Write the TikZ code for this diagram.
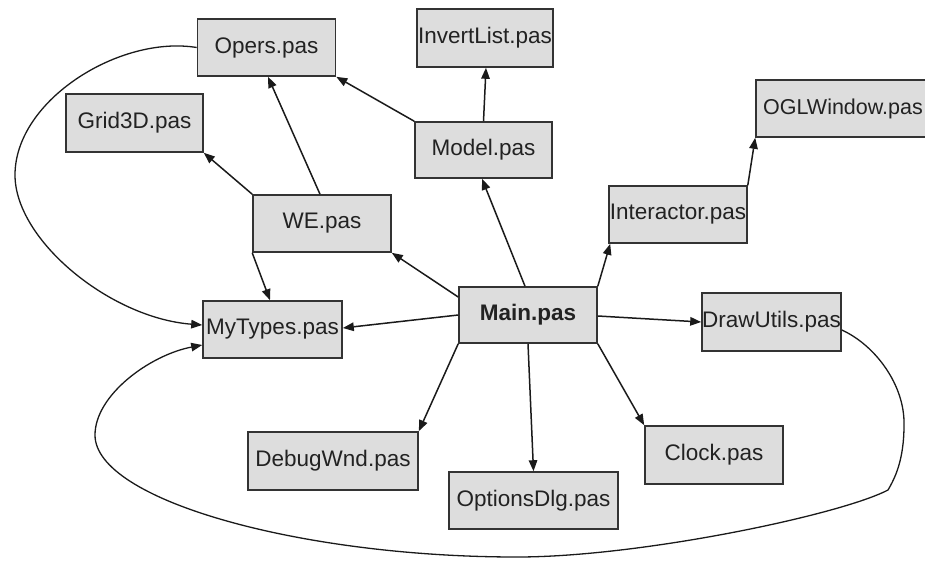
\documentclass[tikz,border=0pt]{standalone}
\usepackage{fontspec}
\setmainfont{Liberation Sans}
\usetikzlibrary{arrows.meta}
\definecolor{boxfill}{HTML}{DDDDDD}
\definecolor{boxline}{HTML}{333333}
\definecolor{edgecol}{HTML}{1A1A1A}
\definecolor{textcol}{HTML}{222222}
\begin{document}
\begin{tikzpicture}[x=1pt,y=-1pt,
  box/.style={draw=boxline, fill=boxfill, line width=1.6pt, inner sep=0pt,
    minimum width=138pt, minimum height=57pt, text=textcol,
    font=\fontsize{22.5}{25}\selectfont},
  dep/.style={draw=edgecol, line width=1.5pt, -{Triangle[length=11pt,width=8.5pt]}},
  curvedep/.style={draw=edgecol, line width=1.3pt, -{Triangle[length=11pt,width=8.5pt]}}]
\useasboundingbox (0,0) rectangle (925,560);

% boxes
\node[box] (opers)   at (266.5,47.5) {Opers.pas};
\node[box, minimum width=136pt, minimum height=58pt] (invert) at (485,38) {InvertList.pas};
\node[box, minimum width=137pt, minimum height=56pt] (model)  at (483.5,150) {Model.pas};
\node[box, minimum width=137pt, minimum height=58pt] (grid)   at (134.5,123) {Grid3D.pas};
\node[box] (we)      at (322,223.5) {WE.pas};
\node[box, minimum width=139pt] (mytypes) at (272.5,329.5) {MyTypes.pas};
\node[box, minimum height=56pt, font=\fontsize{22.5}{25}\selectfont\bfseries] (main) at (528,315) {Main.pas};
\node[box, minimum width=139pt, minimum height=58pt] (draw) at (771.5,322) {DrawUtils.pas};
\node[box, minimum height=58pt] (clock) at (714,455) {Clock.pas};
\node[box, minimum width=169pt] (options) at (533.5,500.5) {OptionsDlg.pas};
\node[box, minimum width=170pt, minimum height=58pt] (debug) at (333,461) {DebugWnd.pas};
\node[box] (inter) at (678,214.5) {Interactor.pas};
\node[box, minimum width=174pt, font=\fontsize{21.5}{25}\selectfont] (ogl) at (843,108.5) {OGLWindow.pas};

% straight dependencies
\draw[dep] ([xshift=-3pt]main.north) -- ([xshift=-1.5pt]model.south);
\draw[dep] (main.north east) -- ([xshift=2pt]inter.south west);
\draw[dep] ([yshift=18pt]main.west) -- (we.south east);
\draw[dep] (main.west) -- ([yshift=1.5pt]mytypes.east);
\draw[dep] ([yshift=-1pt]main.east) -- (draw.west);
\draw[dep] (main.south west) -- (debug.north east);
\draw[dep] (main.south) -- (options.north);
\draw[dep] (main.south east) -- (clock.north west);
\draw[dep] (model.north west) -- (opers.south east);
\draw[dep] (model.north) -- ([xshift=1pt]invert.south);
\draw[dep] ([xshift=-2pt]we.north) -- ([xshift=1.5pt]opers.south);
\draw[dep] (we.north west) -- (grid.south east);
\draw[dep] (we.south west) -- ([xshift=-2.5pt]mytypes.north);
\draw[dep] (inter.north east) -- (ogl.south west);

% curved dependencies
\draw[curvedep] (opers.west)
  .. controls (120,35) and (15,100) .. (15,175)
  .. controls (15,240) and (110,318) .. ([yshift=4.5pt]mytypes.west);
\draw[curvedep] ([yshift=-8pt]draw.east)
  .. controls (875,345) and (905,385) .. (904,425)
  .. controls (904,460) and (895,478) .. (888,490)
  .. controls (840,515) and (640,557) .. (517,557)
  .. controls (300,557) and (95,500) .. (95,435)
  .. controls (95,395) and (150,355) .. ([yshift=-15.5pt]mytypes.west);
\end{tikzpicture}
\end{document}
